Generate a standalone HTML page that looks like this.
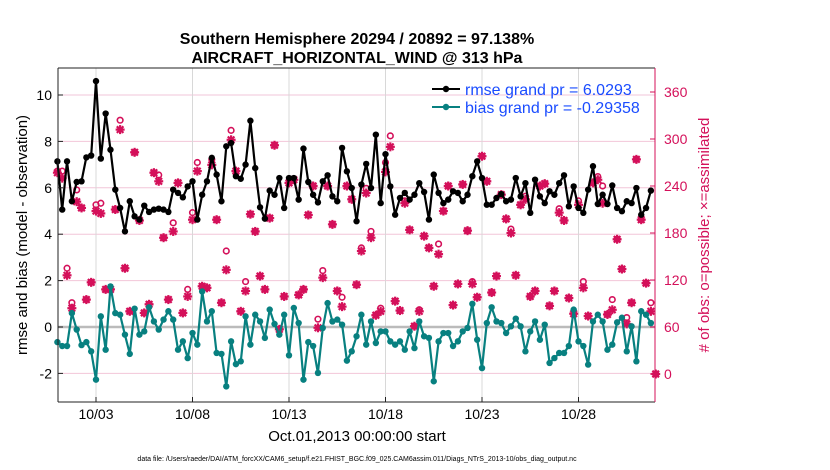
<!DOCTYPE html>
<html><head><meta charset="utf-8"><style>
html,body{margin:0;padding:0;background:#fff;}
svg{display:block;font-family:"Liberation Sans",sans-serif;}
</style></head><body>
<svg id="chart" width="830" height="470" viewBox="0 0 830 470">
<text x="357" y="44" text-anchor="middle" font-size="16" font-weight="bold">Southern Hemisphere 20294 / 20892 = 97.138%</text>
<text x="357" y="63" text-anchor="middle" font-size="16" font-weight="bold">AIRCRAFT_HORIZONTAL_WIND @ 313 hPa</text>
<g id="grid"></g>
<g id="marks"></g>
<g id="axes"></g>
<text transform="translate(27,235) rotate(-90)" text-anchor="middle" font-size="15">rmse and bias (model - observation)</text>
<text transform="translate(709,235) rotate(-90)" text-anchor="middle" font-size="15" fill="#d4105a"># of obs: o=possible; ×=assimilated</text>
<text x="357" y="441" text-anchor="middle" font-size="15">Oct.01,2013 00:00:00 start</text>
<text x="357" y="461" text-anchor="middle" font-size="7">data file: /Users/raeder/DAI/ATM_forcXX/CAM6_setup/f.e21.FHIST_BGC.f09_025.CAM6assim.011/Diags_NTrS_2013-10/obs_diag_output.nc</text>
<g>
<line x1="432" y1="89" x2="460" y2="89" stroke="#000" stroke-width="2"/><circle cx="446" cy="89" r="3.2" fill="#000"/>
<text x="465" y="95" font-size="16" fill="#1a4cff">rmse grand pr = 6.0293</text>
<line x1="432" y1="107" x2="460" y2="107" stroke="#088080" stroke-width="2"/><circle cx="446" cy="107" r="3.2" fill="#088080"/>
<text x="465" y="113" font-size="16" fill="#1a4cff">bias grand pr = -0.29358</text>
</g>
</svg>
<script>
const rmse=[7.14,5.06,7.14,5.42,6.25,6.28,7.31,7.39,10.6,7.26,9.2,7.64,5.92,5.13,4.12,5.42,4.77,4.63,5.23,4.96,5.06,
5.10,5.06,4.96,5.92,5.78,5.59,6.06,6.28,4.63,5.7,6.28,7.29,6.57,5.42,7.79,7.93,6.5,6.39,7.0,8.89,6.85,
5.16,4.67,5.88,5.7,6.42,5.13,6.42,6.42,5.49,7.69,6.25,5.7,5.37,6.28,6.54,5.63,5.42,7.72,6.71,5.99,
4.56,6.14,7.03,5.99,8.29,5.34,7.45,6.06,4.84,5.56,5.78,5.49,5.7,6.2,5.82,4.63,6.57,5.78,5.34,5.49,
5.85,5.78,5.42,5.7,6.5,7.14,6.42,5.27,5.27,5.56,5.73,5.42,5.49,6.42,5.63,6.2,4.92,6.35,5.63,5.34,5.85,
5.7,6.2,6.54,5.2,6.06,5.13,4.92,5.92,6.93,5.3,5.7,5.3,6.1,5.13,4.99,5.42,5.34,5.99,4.84,5.13,5.88];
const bias=[-0.65,-0.82,-0.82,0.6,-0.11,-0.78,-0.65,-1.05,-2.27,0.46,-0.98,1.75,0.6,0.53,-0.33,-1.16,0.79,-0.33,-0.19,0.85,0.24,
-0.11,0.32,0.68,0.32,-0.98,-0.62,-1.34,-0.26,-0.76,1.53,0.24,0.68,-1.12,-1.16,-2.56,-0.62,-1.6,-1.48,0.46,-0.76,0.53,
0.24,-0.47,0.75,0.13,-0.33,0.53,-1.22,0.82,0.17,-2.27,-0.65,-0.82,-1.98,-0.04,1.03,0.24,0.32,0.10,-1.45,-1.05,
-0.40,0.53,-0.76,0.24,-0.69,-0.19,-0.19,-0.62,-0.76,-0.62,-0.98,-0.19,-0.91,0.24,-0.40,-0.47,-2.34,-0.62,-0.26,-0.26,
-0.82,-0.62,-0.19,-0.04,1.0,-0.55,-1.77,0.17,0.85,0.24,0.17,-0.26,0.03,0.36,0.03,-1.05,-0.19,0.24,-0.55,0.1,-1.55,
-1.34,-1.12,-1.12,-0.82,0.75,-0.62,-0.82,-1.62,0.24,0.53,0.24,-0.98,-0.76,0.2,0.4,-1.05,0.03,-1.48,0.68,0.53,0.17];
const nAssim=[257,250,126,84,220,212,95,117,208,205,108,108,210,312,135,80,283,196,78,89,257,
246,174,95,182,244,78,99,197,259,112,110,267,197,91,133,299,259,80,106,204,182,
125,108,199,292,57,99,244,248,101,108,203,240,59,123,240,191,106,86,240,223,
114,157,231,174,75,80,258,290,93,81,218,184,61,80,176,161,112,153,208,240,
88,115,242,183,115,98,278,246,104,125,229,198,180,126,216,223,99,106,240,243,87,
106,206,196,97,77,216,110,74,244,248,218,76,82,172,134,64,91,274,197,116,80,0];
const nPoss=[259,259,135,91,235,212,95,117,216,218,108,108,210,324,135,80,283,196,78,89,257,
254,174,95,193,244,78,108,206,270,112,110,274,197,91,157,311,259,80,118,204,182,
125,108,199,292,57,99,244,248,101,108,203,240,70,132,240,191,106,98,240,223,
114,161,237,182,75,84,270,304,93,81,221,184,61,82,176,161,112,166,208,240,
88,115,242,183,118,98,278,246,104,125,229,198,185,126,216,227,99,106,240,243,87,
106,211,196,97,77,221,118,74,244,252,240,76,95,172,134,72,91,274,197,116,91,0];
const xTickDays=[2,7,12,17,22,27];
const xTickLabels=['10/03','10/08','10/13','10/18','10/23','10/28'];
const yTicks=[-2,0,2,4,6,8,10];
const y2Ticks=[0,60,120,180,240,300,360];

const NS='http://www.w3.org/2000/svg';
const L=58,R=655,T=68,B=402;
const xs=d=>57.4+d*19.3;
const ys=v=>327-v*23.2;
const ys2=c=>374-c*(47/60);
const MAG='#d4105a',TEAL='#088080';
function mk(tag,attrs,parent){const e=document.createElementNS(NS,tag);for(const k in attrs)e.setAttribute(k,attrs[k]);parent.appendChild(e);return e;}
const grid=document.getElementById('grid'),marks=document.getElementById('marks'),axes=document.getElementById('axes');

yTicks.forEach(v=>{const l=mk('line',{x1:L,x2:R,y1:ys(v),y2:ys(v),stroke:'#f2c6d8','stroke-width':1},grid);

});
xTickDays.forEach((d,i)=>{const l=mk('line',{x1:xs(d),x2:xs(d),y1:T,y2:B,stroke:'#d8d8d8','stroke-width':1},grid);


const t=mk('text',{x:xs(d),y:419,'text-anchor':'middle','font-size':14},axes);t.textContent=xTickLabels[i];


mk('line',{x1:xs(d),x2:xs(d),y1:B,y2:B-5,stroke:'#222'},axes);});
const zl=mk('line',{x1:L,x2:R,y1:ys(0),y2:ys(0),stroke:'#bbb','stroke-width':2.5},grid);



nPoss.forEach((c,i)=>{const cx=xs(i*0.25);
const o=mk('circle',{cx:cx,cy:ys2(c),r:2.8,fill:'none',stroke:MAG,'stroke-width':1.6},marks);

});
nAssim.forEach((c,i)=>{const cx=xs(i*0.25),cy=ys2(c);
const g=mk('g',{stroke:MAG,'stroke-width':2.2},marks);


mk('line',{x1:cx-4.5,x2:cx+4.5,y1:cy,y2:cy},g);mk('line',{x1:cx,x2:cx,y1:cy-4.5,y2:cy+4.5},g);
mk('line',{x1:cx-3.3,x2:cx+3.3,y1:cy-3.3,y2:cy+3.3},g);mk('line',{x1:cx-3.3,x2:cx+3.3,y1:cy+3.3,y2:cy-3.3},g);});

function series(arr,color,name){
const pts=arr.map((v,i)=>xs(i*0.25).toFixed(1)+','+ys(v).toFixed(1)).join(' ');
const pl=mk('polyline',{points:pts,fill:'none',stroke:color,'stroke-width':2.2,'stroke-linejoin':'round'},marks);


arr.forEach((v,i)=>{const c=mk('circle',{cx:xs(i*0.25),cy:ys(v),r:3.2,fill:color},marks);

});}
series(rmse,'#000','rmse');
series(bias,TEAL,'bias');

mk('line',{x1:L,x2:R,y1:T,y2:T,stroke:'#222'},axes);
mk('line',{x1:L,x2:R,y1:B,y2:B,stroke:'#222'},axes);
mk('line',{x1:L,x2:L,y1:T,y2:B,stroke:'#222'},axes);
mk('line',{x1:R,x2:R,y1:T,y2:B,stroke:MAG},axes);
yTicks.forEach(v=>{mk('line',{x1:L,x2:L+5,y1:ys(v),y2:ys(v),stroke:'#222'},axes);
const t=mk('text',{x:L-6,y:ys(v)+5,'text-anchor':'end','font-size':14},axes);t.textContent=v;

});
y2Ticks.forEach(c=>{mk('line',{x1:R,x2:R-5,y1:ys2(c),y2:ys2(c),stroke:MAG},axes);
const t=mk('text',{x:R+9,y:ys2(c)+5,'font-size':14,fill:MAG},axes);t.textContent=c;

});
</script>
</body></html>
